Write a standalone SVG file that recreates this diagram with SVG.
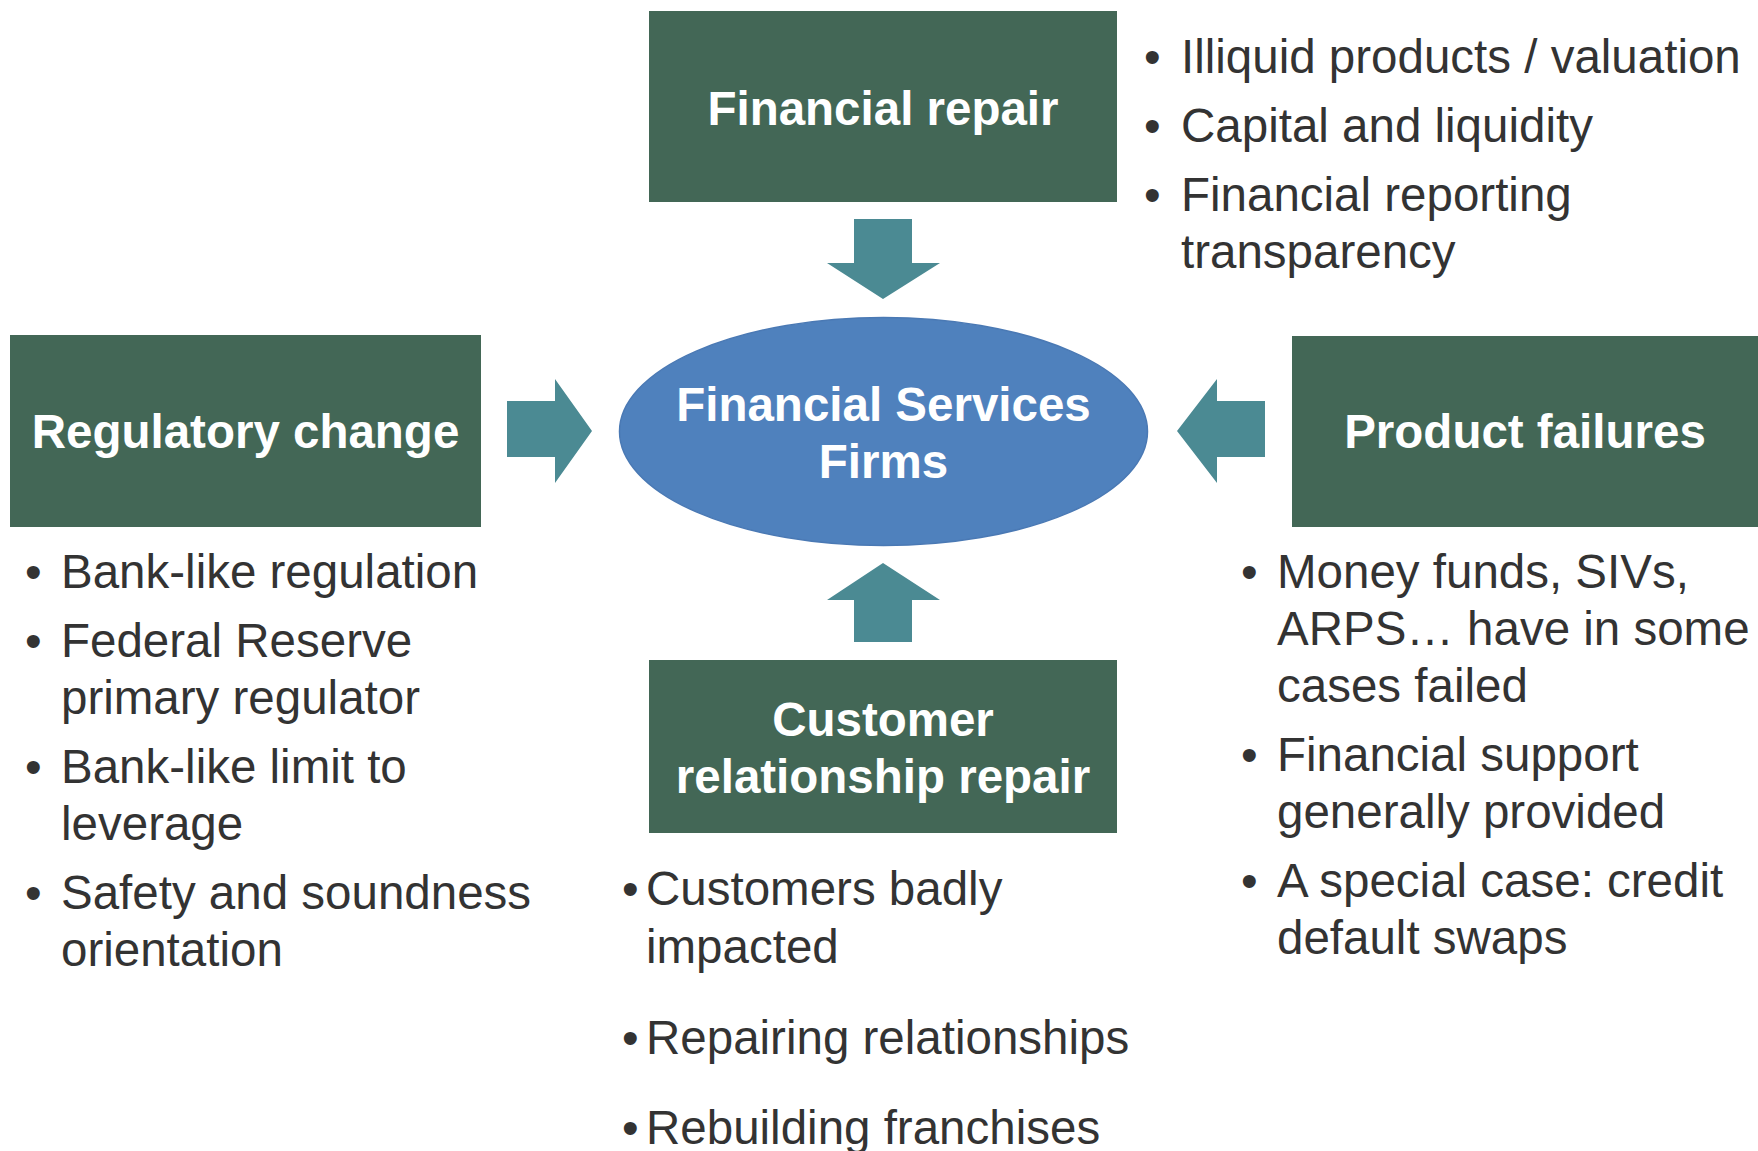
<svg xmlns="http://www.w3.org/2000/svg" width="1758" height="1151" viewBox="0 0 1758 1151">
  <style>
    .box { fill: #436756; }
    .arrow { fill: #4b8a93; }
    .head { font-family: "Liberation Sans", Arial, sans-serif; font-weight: bold; font-size: 47.5px; fill: #ffffff; text-anchor: middle; }
    .item { font-family: "Liberation Sans", Arial, sans-serif; font-size: 47.5px; fill: #333333; }
  </style>

  <!-- center -->
  <g id="financial-services-firms">
    <ellipse cx="883.5" cy="431.5" rx="264" ry="114" fill="#4f81bd" stroke="#4a79b4" stroke-width="1.5"/>
    <text class="head" x="883.5" y="421">Financial Services</text>
    <text class="head" x="883.5" y="478">Firms</text>
  </g>

  <!-- top -->
  <g id="financial-repair">
    <rect class="box" x="649" y="11" width="468" height="191"/>
    <text class="head" x="883" y="125">Financial repair</text>
  </g>

  <!-- left -->
  <g id="regulatory-change">
    <rect class="box" x="10" y="335" width="471" height="192"/>
    <text class="head" x="245.5" y="448">Regulatory change</text>
  </g>

  <!-- right -->
  <g id="product-failures">
    <rect class="box" x="1292" y="336" width="466" height="191"/>
    <text class="head" x="1525" y="448">Product failures</text>
  </g>

  <!-- bottom -->
  <g id="customer-relationship-repair">
    <rect class="box" x="649" y="660" width="468" height="173"/>
    <text class="head" x="883" y="736">Customer</text>
    <text class="head" x="883" y="793">relationship repair</text>
  </g>

  <!-- block arrows pointing into the center -->
  <g id="connectors">
    <polygon class="arrow" points="854,219 912,219 912,263 940,263 883,299 827,263 854,263"/>
    <polygon class="arrow" points="507,401 555,401 555,379 592,431 555,483 555,457 507,457"/>
    <polygon class="arrow" points="1265,401 1217,401 1217,379 1177,431 1217,483 1217,457 1265,457"/>
    <polygon class="arrow" points="854,642 912,642 912,600 940,600 883,563 827,600 854,600"/>
  </g>

  <!-- bullet lists -->
  <g id="financial-repair-items">
    <text class="item" x="1144" y="73">•</text>
    <text class="item" x="1181" y="73">Illiquid products / valuation</text>
    <text class="item" x="1144" y="142">•</text>
    <text class="item" x="1181" y="142">Capital and liquidity</text>
    <text class="item" x="1144" y="211">•</text>
    <text class="item" x="1181" y="211">Financial reporting</text>
    <text class="item" x="1181" y="268">transparency</text>
  </g>

  <g id="regulatory-change-items">
    <text class="item" x="25" y="588">•</text>
    <text class="item" x="61" y="588">Bank-like regulation</text>
    <text class="item" x="25" y="657">•</text>
    <text class="item" x="61" y="657">Federal Reserve</text>
    <text class="item" x="61" y="714">primary regulator</text>
    <text class="item" x="25" y="783">•</text>
    <text class="item" x="61" y="783">Bank-like limit to</text>
    <text class="item" x="61" y="840">leverage</text>
    <text class="item" x="25" y="909">•</text>
    <text class="item" x="61" y="909">Safety and soundness</text>
    <text class="item" x="61" y="966">orientation</text>
  </g>

  <g id="product-failures-items">
    <text class="item" x="1241" y="588">•</text>
    <text class="item" x="1277" y="588">Money funds, SIVs,</text>
    <text class="item" x="1277" y="645">ARPS… have in some</text>
    <text class="item" x="1277" y="702">cases failed</text>
    <text class="item" x="1241" y="771">•</text>
    <text class="item" x="1277" y="771">Financial support</text>
    <text class="item" x="1277" y="828">generally provided</text>
    <text class="item" x="1241" y="897">•</text>
    <text class="item" x="1277" y="897">A special case: credit</text>
    <text class="item" x="1277" y="954">default swaps</text>
  </g>

  <g id="customer-relationship-items">
    <text class="item" x="622" y="905">•</text>
    <text class="item" x="646" y="905">Customers badly</text>
    <text class="item" x="646" y="963">impacted</text>
    <text class="item" x="622" y="1054">•</text>
    <text class="item" x="646" y="1054">Repairing relationships</text>
    <text class="item" x="622" y="1144">•</text>
    <text class="item" x="646" y="1144">Rebuilding franchises</text>
  </g>
</svg>
